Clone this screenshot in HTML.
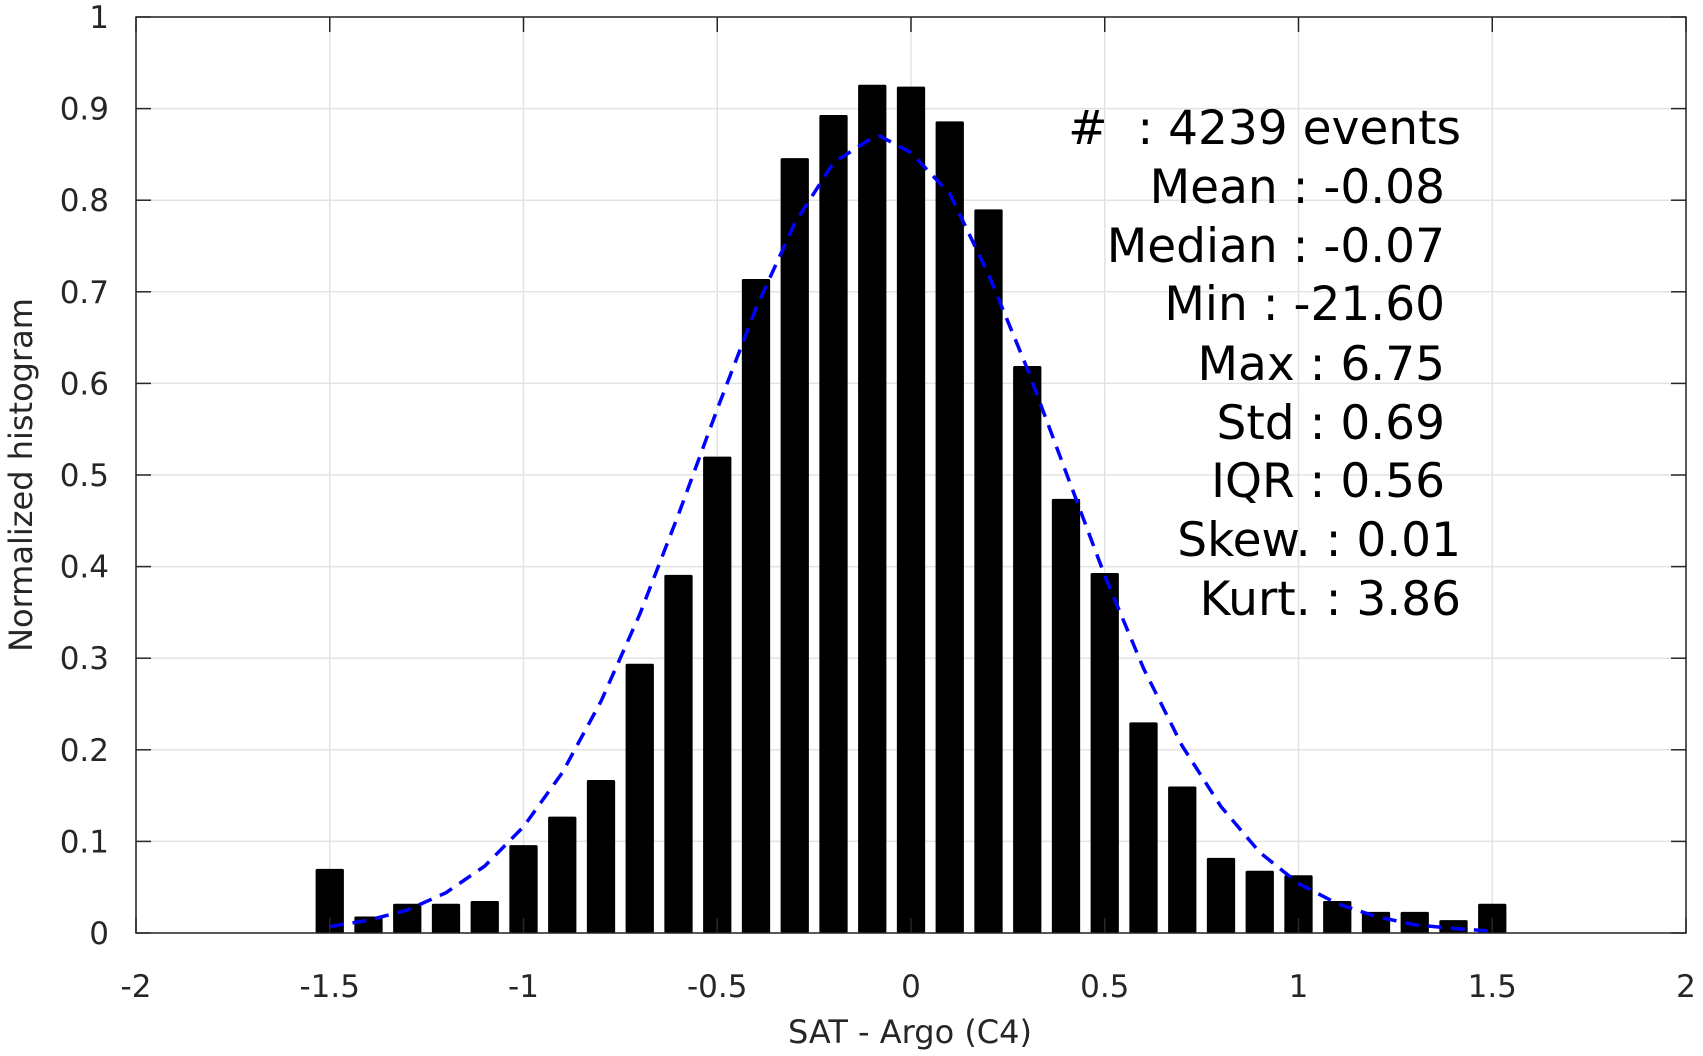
<!DOCTYPE html>
<html><head><meta charset="utf-8"><style>
html,body{margin:0;padding:0;background:#fff;}
svg{display:block;font-family:"DejaVu Sans","Liberation Sans",sans-serif;}
</style></head><body>
<svg id="chart" width="1703" height="1056" viewBox="0 0 1703 1056">
<g id="grid"></g>
<g id="bars"></g>
<path id="fit" fill="none" stroke="#0000ff" stroke-width="3.5" stroke-dasharray="14,9"></path>
<g id="axes"></g>
<text transform="translate(32,475) rotate(-90)" text-anchor="middle" font-size="32" fill="#262626">Normalized histogram</text>
<text x="910" y="1043" text-anchor="middle" font-size="32" fill="#262626">SAT - Argo (C4)</text>
<g font-size="47" fill="#000" text-anchor="end">
<text x="1461" y="144"># &#160;: 4239 events</text>
<text x="1445" y="203">Mean : -0.08</text>
<text x="1445" y="262">Median : -0.07</text>
<text x="1445" y="320">Min : -21.60</text>
<text x="1445" y="380">Max : 6.75</text>
<text x="1445" y="439">Std : 0.69</text>
<text x="1445" y="497">IQR : 0.56</text>
<text x="1461" y="556">Skew. : 0.01</text>
<text x="1461" y="615">Kurt. : 3.86</text>
</g>
</svg>
<script>
const binCenters=[-1.5,-1.4,-1.3,-1.2,-1.1,-1.0,-0.9,-0.8,-0.7,-0.6,-0.5,-0.4,-0.3,-0.2,-0.1,0,0.1,0.2,0.3,0.4,0.5,0.6,0.7,0.8,0.9,1.0,1.1,1.2,1.3,1.4,1.5];
const binValues=[0.07,0.018,0.032,0.032,0.035,0.096,0.127,0.167,0.294,0.391,0.52,0.714,0.846,0.893,0.926,0.924,0.886,0.79,0.619,0.474,0.393,0.23,0.16,0.082,0.068,0.063,0.035,0.023,0.023,0.014,0.032];
const fitX=[-1.5,-1.4,-1.3,-1.2,-1.1,-1.0,-0.9,-0.8,-0.7,-0.6,-0.5,-0.4,-0.3,-0.2,-0.1,-0.08,0,0.1,0.2,0.3,0.4,0.5,0.6,0.7,0.8,0.9,1.0,1.1,1.2,1.3,1.4,1.5];
const fitY=[0.007,0.014,0.025,0.044,0.073,0.116,0.175,0.253,0.348,0.457,0.572,0.682,0.775,0.841,0.868,0.87,0.852,0.807,0.719,0.616,0.503,0.39,0.289,0.204,0.138,0.088,0.054,0.032,0.018,0.009,0.005,0.002];
const xTicks=[-2,-1.5,-1,-0.5,0,0.5,1,1.5,2];
const xTickLabels=["-2","-1.5","-1","-0.5","0","0.5","1","1.5","2"];
const yTicks=[0,0.1,0.2,0.3,0.4,0.5,0.6,0.7,0.8,0.9,1];
const yTickLabels=["0","0.1","0.2","0.3","0.4","0.5","0.6","0.7","0.8","0.9","1"];

const L=136,R=1686,T=17,B=933;
const xS=v=>L+(v+2)/4*(R-L);
const yS=v=>B-v*(B-T);
const NS="http://www.w3.org/2000/svg";
function mk(tag,attrs,parent){const e=document.createElementNS(NS,tag);for(const k in attrs)e.setAttribute(k,attrs[k]);parent.appendChild(e);return e;}
const grid=document.getElementById('grid'),axes=document.getElementById('axes'),bars=document.getElementById('bars');
xTicks.forEach((t,i)=>{
  const g=mk('line',{x1:xS(t),x2:xS(t),y1:T,y2:B,stroke:'#e3e3e3','stroke-width':1.5},grid);
  
  
  const a=mk('line',{x1:xS(t),x2:xS(t),y1:B,y2:B-15,stroke:'#262626','stroke-width':1.5},axes);
  
  
  const b=mk('line',{x1:xS(t),x2:xS(t),y1:T,y2:T+15,stroke:'#262626','stroke-width':1.5},axes);
  
  
  const tx=mk('text',{x:xS(t),y:997,'text-anchor':'middle','font-size':31,fill:'#262626'},axes);
  tx.textContent=xTickLabels[i];
  
  
});
yTicks.forEach((t,i)=>{
  const g=mk('line',{x1:L,x2:R,y1:yS(t),y2:yS(t),stroke:'#e3e3e3','stroke-width':1.5},grid);
  
  
  const a=mk('line',{x1:L,x2:L+15,y1:yS(t),y2:yS(t),stroke:'#262626','stroke-width':1.5},axes);
  
  
  const b=mk('line',{x1:R,x2:R-15,y1:yS(t),y2:yS(t),stroke:'#262626','stroke-width':1.5},axes);
  
  
  const tx=mk('text',{x:109,y:yS(t)+11,'text-anchor':'end','font-size':31,fill:'#262626'},axes);
  tx.textContent=yTickLabels[i];
  
  
});
const frame=mk('rect',{x:L,y:T,width:R-L,height:B-T,fill:'none',stroke:'#262626','stroke-width':1.5},axes);


const bw=0.073/4*(R-L);
binCenters.forEach((c,i)=>{
  const r=mk('rect',{x:xS(c)-bw/2,y:yS(binValues[i]),width:bw,height:B-yS(binValues[i]),fill:'#000',rx:1.5},bars);
  
  
});
document.getElementById('fit').setAttribute('d',fitX.map((x,i)=>(i?'L':'M')+xS(x).toFixed(1)+','+yS(fitY[i]).toFixed(1)).join(''));
</script>
</body></html>
